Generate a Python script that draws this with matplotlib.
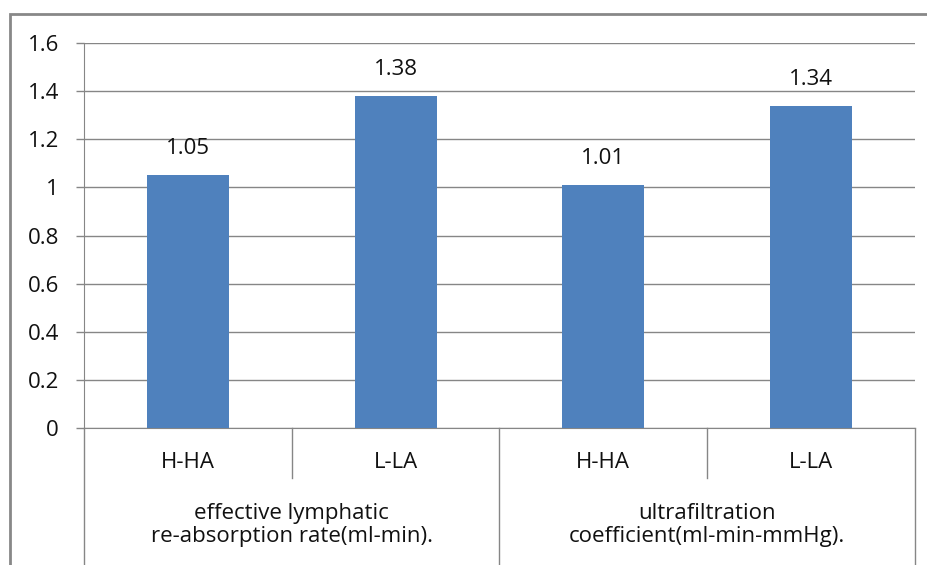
import matplotlib.pyplot as plt
from matplotlib.patches import Rectangle

# data
groups = ['effective lymphatic\nre-absorption rate(ml-min).',
          'ultrafiltration\ncoefficient(ml-min-mmHg).']
subcats = ['H-HA', 'L-LA', 'H-HA', 'L-LA']
values = [1.05, 1.38, 1.01, 1.34]
yticks = [0, 0.2, 0.4, 0.6, 0.8, 1, 1.2, 1.4, 1.6]

plt.rcParams['font.family'] = ['Open Sans', 'DejaVu Sans']
fs = 16

W, H = 928, 565
fig = plt.figure(figsize=(W / 100, H / 100), dpi=100)

# plot area in pixels
x0, x1, ytop, ybot = 84, 915, 43, 428
ax = fig.add_axes([x0 / W, (H - ybot) / H, (x1 - x0) / W, (ybot - ytop) / H])

gcol = '#868686'
n = len(values)
xs = list(range(n))
ax.bar(xs, values, width=0.395, color='#4F81BD', zorder=3)
for x, v in zip(xs, values):
    ax.text(x, v + 0.11, f'{v:.2f}', ha='center', va='center', fontsize=fs, color='#111111')

ax.set_xlim(-0.5, n - 0.5)
ax.set_ylim(0, 1.6)
ax.set_yticks(yticks)
ax.set_yticklabels([f'{t:g}' for t in yticks], fontsize=fs, color='#111111')
ax.tick_params(axis='y', length=6, width=1, color=gcol, pad=12)
ax.set_xticks([])
ax.yaxis.grid(True, color=gcol, linewidth=1)
ax.set_axisbelow(True)
for s in ['top', 'right']:
    ax.spines[s].set_visible(False)
ax.spines['left'].set_color(gcol)
ax.spines['bottom'].set_color(gcol)

# hierarchical category axis below
tr = ax.get_xaxis_transform()
def fy(py):
    return (ybot - py) / (ybot - ytop)

for i in range(n + 1):
    xb = i - 0.5
    if i % 2 == 0:
        ax.plot([xb, xb], [0, fy(H + 5)], color=gcol, lw=1, transform=tr, clip_on=False)
    else:
        ax.plot([xb, xb], [0, fy(478)], color=gcol, lw=1, transform=tr, clip_on=False)
for x, lab in zip(xs, subcats):
    ax.text(x, fy(462), lab, ha='center', va='center', fontsize=fs, color='#111111', transform=tr)
for g, lab in enumerate(groups):
    ax.text(2 * g + 0.5, fy(525), lab, ha='center', va='center', fontsize=fs,
            color='#111111', linespacing=1.1, transform=tr)

# outer chart border
fig.patches.append(Rectangle((10 / W, -0.1), 1.2, (H - 14) / H + 0.1,
                             transform=fig.transFigure, fill=False,
                             edgecolor='#888888', linewidth=2))

fig.savefig('out.png', dpi=100)
